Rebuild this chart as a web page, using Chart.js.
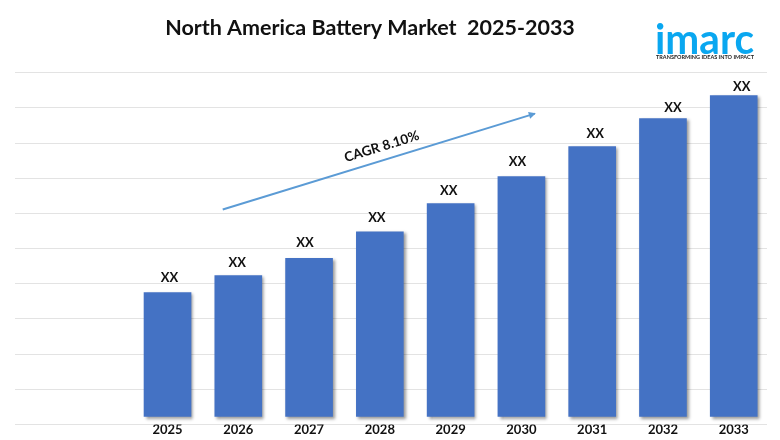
<!DOCTYPE html>
<html>
<head>
<meta charset="utf-8">
<title>North America Battery Market 2025-2033</title>
<script src="https://cdn.jsdelivr.net/npm/chart.js@4/dist/chart.umd.min.js"></script>
<style>
html, body { margin: 0; padding: 0; background: #fff; }
#wrap { width: 780px; height: 440px; }
</style>
</head>
<body>
<div id="wrap"><canvas id="marketChart" width="780" height="440"></canvas></div>
<script>
var years = [2025, 2026, 2027, 2028, 2029, 2030, 2031, 2032, 2033];
var marketValues = [37.5, 42.3, 47.2, 54.8, 62.8, 70.5, 79, 87, 93.5];
var valueLabels = ['XX', 'XX', 'XX', 'XX', 'XX', 'XX', 'XX', 'XX', 'XX'];
var arrowYears = [2025.78, 2030.19];
var arrowValues = [61.1, 88.4];
var cagrLabel = 'CAGR 8.10%';
var titleText = 'North America Battery Market  2025-2033';

var fontName = 'Lato, "Open Sans", sans-serif';

// bar shadow, the library has no option for it
var barShadow = {
    id: 'barShadow',
    beforeDatasetDraw: function(chart, args) {
        if (args.index !== 0) return;
        var ctx = chart.ctx;
        ctx.save();
        ctx.shadowColor = 'rgba(0, 0, 0, 0.4)';
        ctx.shadowBlur = 3;
        ctx.shadowOffsetX = 2;
        ctx.shadowOffsetY = 2;
    },
    afterDatasetDraw: function(chart, args) {
        if (args.index === 0) chart.ctx.restore();
    }
};

var extras = {
    id: 'extras',
    afterLayout: function(chart) {
        // title sits left of the canvas centre
        chart.titleBlock.left = 0;
        chart.titleBlock.right = 740;
    },
    afterDraw: function(chart, args, opts) {
        var ctx = chart.ctx;
        var bars = chart.getDatasetMeta(0).data;
        var arrow = chart.getDatasetMeta(1).data;

        ctx.save();
        ctx.fillStyle = '#111';
        ctx.font = 'bold 13px ' + fontName;
        ctx.textAlign = 'center';
        ctx.textBaseline = 'middle';
        bars.forEach(function(bar, i) {
            ctx.fillText(valueLabels[i], bar.x + opts.labelDx[i], bar.y - opts.labelGap[i]);
        });

        // arrow head
        var angle = Math.atan2(arrow[1].y - arrow[0].y, arrow[1].x - arrow[0].x);
        ctx.save();
        ctx.translate(arrow[1].x, arrow[1].y);
        ctx.rotate(angle);
        ctx.fillStyle = '#5b9bd5';
        ctx.beginPath();
        ctx.moveTo(1, 0);
        ctx.lineTo(-6, -3.5);
        ctx.lineTo(-6, 3.5);
        ctx.closePath();
        ctx.fill();
        ctx.restore();

        // CAGR text above the arrow
        ctx.save();
        ctx.translate((arrow[0].x + arrow[1].x) / 2 + 3, (arrow[0].y + arrow[1].y) / 2 - 15);
        ctx.rotate(angle);
        ctx.fillStyle = '#111';
        ctx.font = 'bold 13.5px ' + fontName;
        ctx.fillText(cagrLabel, 0, 0);
        ctx.restore();

        // logo
        ctx.textAlign = 'left';
        ctx.textBaseline = 'alphabetic';
        ctx.fillStyle = '#0aa7f0';
        ctx.font = 'bold 42px ' + fontName;
        ctx.fillText('imarc', 655, 54, 99);
        ctx.fillStyle = '#222';
        ctx.font = 'bold 6.4px ' + fontName;
        ctx.fillText('TRANSFORMING IDEAS INTO IMPACT', 656, 59, 98);
        ctx.restore();
    }
};

var marketChart = new Chart(document.getElementById('marketChart').getContext('2d'), {
    type: 'bar',
    data: {
        datasets: [{
            label: 'Market size',
            data: years.map(function(y, i) { return { x: y, y: marketValues[i] }; }),
            backgroundColor: '#4472c4',
            barThickness: 47,
            base: 2.3,
            order: 2
        }, {
            type: 'line',
            label: 'CAGR',
            data: arrowYears.map(function(y, i) { return { x: y, y: arrowValues[i] }; }),
            borderColor: '#5b9bd5',
            borderWidth: 2,
            pointRadius: 0,
            order: 1
        }]
    },
    plugins: [barShadow, extras],
    options: {
        responsive: false,
        animation: false,
        layout: { padding: { left: 15, right: 13, top: 0, bottom: 4 } },
        plugins: {
            legend: { display: false },
            tooltip: { enabled: false },
            // labels in the picture sit a little off their bars
            extras: {
                labelDx: [2, -1, -4, -3, -2, -4, 3, 10, 8],
                labelGap: [15, 13, 16, 14, 13, 15, 13, 11, 9]
            },
            title: {
                display: true,
                text: titleText,
                color: '#111',
                font: { family: fontName, size: 21.5, weight: 'bold' },
                padding: { top: 15, bottom: 32 }
            }
        },
        scales: {
            x: {
                type: 'linear',
                offset: false,
                min: 2022.845,
                max: 2033.47,
                afterBuildTicks: function(axis) {
                    axis.ticks = years.map(function(y) { return { value: y }; });
                },
                grid: { display: false, drawTicks: false },
                border: { display: false },
                ticks: {
                    autoSkip: false,
                    maxRotation: 0,
                    padding: -2,
                    color: '#111',
                    font: { family: fontName, size: 13, weight: 'bold' },
                    callback: function(value) { return String(value); }
                }
            },
            y: {
                min: 0,
                max: 100,
                grid: { color: '#e3e3e3', lineWidth: 1, drawTicks: false },
                border: { display: false },
                ticks: { display: false, stepSize: 10 }
            }
        }
    }
});
</script>
</body>
</html>
